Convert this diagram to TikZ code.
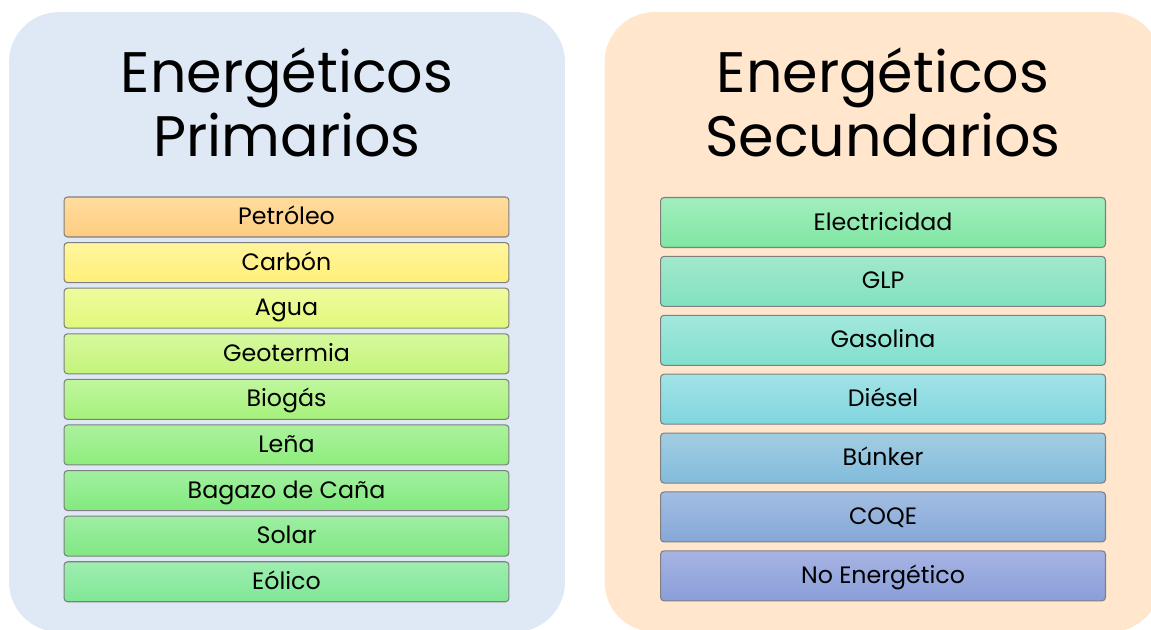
\documentclass[tikz,border=0pt]{standalone}
\usepackage{fontspec}
\setmainfont{Poppins}
\usetikzlibrary{positioning}

\definecolor{primbg}{HTML}{DEE9F5}
\definecolor{secbg}{HTML}{FFE6CC}
\definecolor{boxline}{HTML}{7F7F7F}
% colores de las cajas (arriba / abajo)
\definecolor{petroleoA}{HTML}{FFDD9E}\definecolor{petroleoB}{HTML}{FFCC80}
\definecolor{carbonA}{HTML}{FFF59E}\definecolor{carbonB}{HTML}{FFEF78}
\definecolor{aguaA}{HTML}{EFFB9E}\definecolor{aguaB}{HTML}{E0F97A}
\definecolor{geoA}{HTML}{D5F99E}\definecolor{geoB}{HTML}{C4F47A}
\definecolor{biogasA}{HTML}{C0F69E}\definecolor{biogasB}{HTML}{A6F17A}
\definecolor{lenaA}{HTML}{ABF29E}\definecolor{lenaB}{HTML}{8EED7C}
\definecolor{bagazoA}{HTML}{A2F0A0}\definecolor{bagazoB}{HTML}{82EA7E}
\definecolor{solarA}{HTML}{9EEEA2}\definecolor{solarB}{HTML}{7FE882}
\definecolor{eolicoA}{HTML}{9FEDB0}\definecolor{eolicoB}{HTML}{7FE796}
\definecolor{elecA}{HTML}{A2EEBE}\definecolor{elecB}{HTML}{80E6A2}
\definecolor{glpA}{HTML}{A2E8CC}\definecolor{glpB}{HTML}{82E2C0}
\definecolor{gasA}{HTML}{A2E8DC}\definecolor{gasB}{HTML}{82E0CE}
\definecolor{dieselA}{HTML}{A2E2E6}\definecolor{dieselB}{HTML}{80D6DE}
\definecolor{bunkerA}{HTML}{A2CDE2}\definecolor{bunkerB}{HTML}{82BCDC}
\definecolor{coqeA}{HTML}{A2BDE2}\definecolor{coqeB}{HTML}{86A8D8}
\definecolor{noenA}{HTML}{A6B4E2}\definecolor{noenB}{HTML}{8A9EDA}

\tikzset{
  panel/.style={rounded corners=1cm, inner sep=0pt, minimum width=11.12cm, minimum height=12.4cm},
  titulo/.style={align=center, anchor=base, font=\fontsize{32.5}{36.3}\selectfont},
  caja/.style={draw=boxline, line width=0.6pt, rounded corners=2pt, inner sep=0pt,
    minimum width=8.9cm, text height=0.86em, text depth=0pt, font=\fontsize{13.5}{16}\selectfont},
  prim/.style={caja, minimum height=0.8cm},
  sec/.style={caja, minimum height=1cm},
  grad/.style={top color=#1A, bottom color=#1B}
}

\begin{document}
\begin{tikzpicture}[x=0.02cm,y=-0.02cm,on grid]
  \useasboundingbox (0,0) rectangle (1151,629);
  \clip (0,0) rectangle (1151,629);

  % fondos
  \node[panel, fill=primbg] (fondoprim) at (287,322) {};
  \node[panel, fill=secbg] (fondosec) at (882.5,322) {};

  \node[titulo] (tprim) at (287,156) {Energéticos\\Primarios};
  \node[titulo] (tsec) at (883,156) {Energéticos\\Secundarios};

  % primarios
  \begin{scope}[node distance=0.912cm]
  \node[prim, grad=petroleo] (petroleo) at (286.5,217) {Petróleo};
  \node[prim, grad=carbon] (carbon) [below = of petroleo] {Carbón};
  \node[prim, grad=agua] (agua) [below = of carbon] {Agua};
  \node[prim, grad=geo] (geotermia) [below = of agua] {Geotermia};
  \node[prim, grad=biogas] (biogas) [below = of geotermia] {Biogás};
  \node[prim, grad=lena] (lena) [below = of biogas] {Leña};
  \node[prim, grad=bagazo] (bagazo) [below = of lena] {Bagazo de Caña};
  \node[prim, grad=solar] (solar) [below = of bagazo] {Solar};
  \node[prim, grad=eolico] (eolico) [below = of solar] {Eólico};
  \end{scope}

  % secundarios
  \begin{scope}[node distance=1.178cm]
  \node[sec, grad=elec] (electricidad) at (883,222.5) {Electricidad};
  \node[sec, grad=glp] (glp) [below = of electricidad] {GLP};
  \node[sec, grad=gas] (gasolina) [below = of glp] {Gasolina};
  \node[sec, grad=diesel] (diesel) [below = of gasolina] {Diésel};
  \node[sec, grad=bunker] (bunker) [below = of diesel] {Búnker};
  \node[sec, grad=coqe] (coqe) [below = of bunker] {COQE};
  \node[sec, grad=noen] (noenerg) [below = of coqe] {No Energético};
  \end{scope}
\end{tikzpicture}
\end{document}
